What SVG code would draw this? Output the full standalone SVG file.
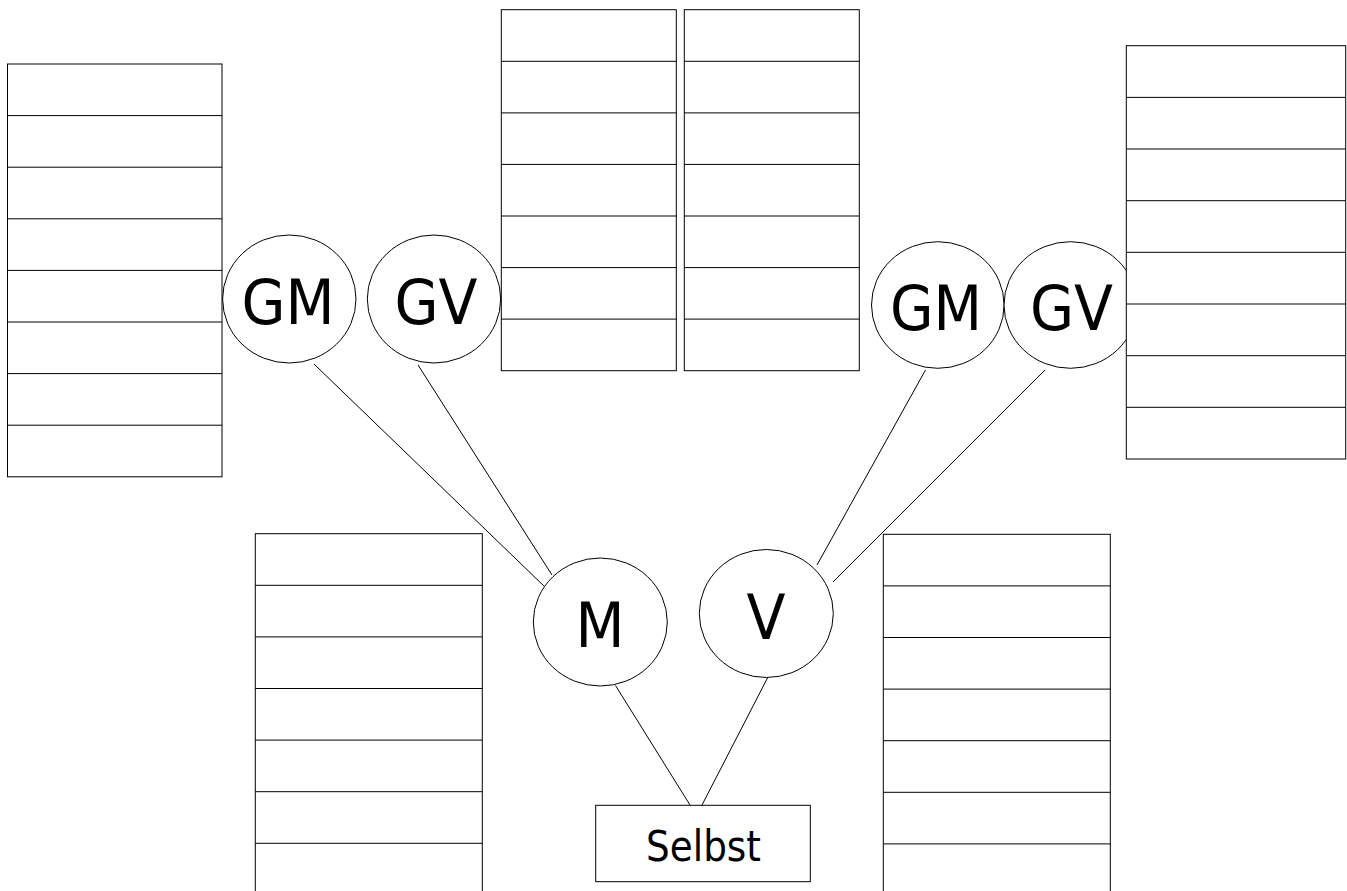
<svg xmlns="http://www.w3.org/2000/svg" width="1347" height="891" viewBox="0 0 1347 891">
<style>
.box{fill:#fff;stroke:#000;stroke-width:1}
.row{stroke:#000;stroke-width:1}
.node{fill:#fff;stroke:#000;stroke-width:1}
.lbl{font-family:"DejaVu Sans Condensed","DejaVu Sans",sans-serif;font-size:63px;fill:#000;text-anchor:middle}
.lbl2{font-family:"DejaVu Sans Condensed","DejaVu Sans",sans-serif;font-size:43px;fill:#000;text-anchor:middle}
.conn{stroke:#000;stroke-width:1;fill:none}
</style>
<rect width="1347" height="891" fill="#fff"/>
<g id="connectors">
<line class="conn" x1="314" y1="364" x2="546" y2="588"/>
<line class="conn" x1="418" y1="365" x2="552" y2="575"/>
<line class="conn" x1="925.5" y1="370" x2="817" y2="565"/>
<line class="conn" x1="1045" y1="370" x2="833" y2="582"/>
<line class="conn" x1="615.5" y1="685.5" x2="690" y2="805"/>
<line class="conn" x1="768" y1="677" x2="702" y2="805"/>
</g>
<g id="gm-left">
<ellipse class="node" cx="289.3" cy="299" rx="66.7" ry="64"/>
<text class="lbl" x="288" y="324" textLength="93" lengthAdjust="spacingAndGlyphs">GM</text>
</g>
<g id="gv-left">
<ellipse class="node" cx="434" cy="299" rx="66.7" ry="64"/>
<text class="lbl" x="436" y="324" textLength="83" lengthAdjust="spacingAndGlyphs">GV</text>
</g>
<g id="gm-right">
<ellipse class="node" cx="937.8" cy="305" rx="66.3" ry="63.3"/>
<text class="lbl" x="936" y="330" textLength="92" lengthAdjust="spacingAndGlyphs">GM</text>
</g>
<g id="gv-right">
<ellipse class="node" cx="1070.5" cy="305" rx="66.5" ry="63.3"/>
<text class="lbl" x="1071.5" y="330" textLength="83" lengthAdjust="spacingAndGlyphs">GV</text>
</g>
<g id="m">
<ellipse class="node" cx="600.3" cy="622" rx="67" ry="64"/>
<text class="lbl" x="600" y="646.5" textLength="49" lengthAdjust="spacingAndGlyphs">M</text>
</g>
<g id="v">
<ellipse class="node" cx="766.3" cy="613.5" rx="67" ry="64"/>
<text class="lbl" x="766" y="639" textLength="39" lengthAdjust="spacingAndGlyphs">V</text>
</g>
<g id="selbst">
<rect class="box" x="595.7" y="805.3" width="214.6" height="76.4"/>
<text class="lbl2" x="703.5" y="861" textLength="115" lengthAdjust="spacingAndGlyphs">Selbst</text>
</g>
<g id="table-left">
<rect class="box" x="7.5" y="64" width="214.5" height="412.8"/>
<path class="row" d="M7.5 115.6H222M7.5 167.2H222M7.5 218.8H222M7.5 270.4H222M7.5 322H222M7.5 373.6H222M7.5 425.2H222"/>
</g>
<g id="table-top-a">
<rect class="box" x="501.3" y="9.7" width="175" height="361"/>
<path class="row" d="M501.3 61.3H676.3M501.3 112.9H676.3M501.3 164.4H676.3M501.3 216H676.3M501.3 267.6H676.3M501.3 319.1H676.3"/>
</g>
<g id="table-top-b">
<rect class="box" x="684.3" y="9.7" width="175" height="361"/>
<path class="row" d="M684.3 61.3H859.3M684.3 112.9H859.3M684.3 164.4H859.3M684.3 216H859.3M684.3 267.6H859.3M684.3 319.1H859.3"/>
</g>
<g id="table-right">
<rect class="box" x="1126.3" y="45.7" width="219.4" height="413.3"/>
<path class="row" d="M1126.3 97.4H1345.7M1126.3 149H1345.7M1126.3 200.7H1345.7M1126.3 252.3H1345.7M1126.3 304H1345.7M1126.3 355.7H1345.7M1126.3 407.3H1345.7"/>
</g>
<g id="table-bottom-left">
<rect class="box" x="255.3" y="533.7" width="227" height="361.5"/>
<path class="row" d="M255.3 585.3H482.3M255.3 636.9H482.3M255.3 688.5H482.3M255.3 740.1H482.3M255.3 791.7H482.3M255.3 843.3H482.3"/>
</g>
<g id="table-bottom-right">
<rect class="box" x="883.3" y="534.3" width="227" height="361.5"/>
<path class="row" d="M883.3 585.9H1110.3M883.3 637.5H1110.3M883.3 689.1H1110.3M883.3 740.7H1110.3M883.3 792.3H1110.3M883.3 843.9H1110.3"/>
</g>
</svg>
